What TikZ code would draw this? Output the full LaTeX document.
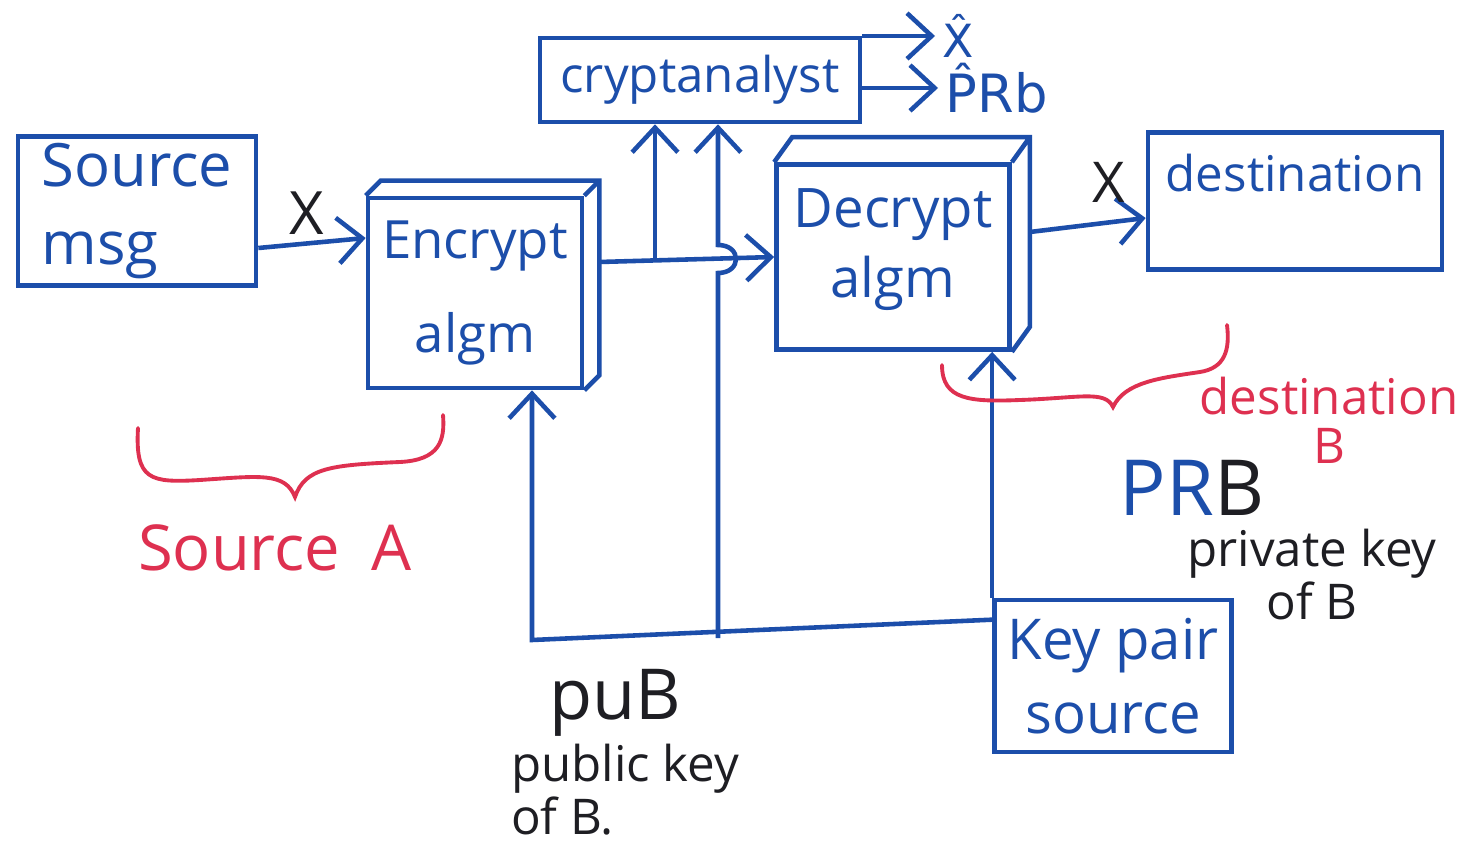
\documentclass[tikz,border=0pt]{standalone}
\usepackage{fontspec}
\setmainfont{Open Sans}
\newfontfamily\hatfont{DejaVu Sans}
\usetikzlibrary{arrows.meta,calc}
\definecolor{inkblue}{RGB}{28,78,170}
\definecolor{inkred}{RGB}{222,48,80}
\definecolor{inkblack}{RGB}{30,30,35}

\begin{document}
\begin{tikzpicture}[x=0.01cm,y=-0.01cm,
  box/.style={draw=inkblue,line width=1.3pt,text=inkblue,align=center,inner sep=2pt},
  link/.style={draw=inkblue,line width=1.3pt},
  arr/.style={link,-{Straight Barb[length=7pt,width=13pt]}},
  lbl/.style={text=inkblack,inner sep=2pt},
  note/.style={text=inkred,inner sep=2pt},
  brace/.style={draw=inkred,line width=1.1pt,line cap=round}]
\path[fill=white,use as bounding box] (0,0) rectangle (1458,843);

% blocks
\node[box,align=left,minimum width=2.38cm,minimum height=1.48cm,font=\fontsize{17}{22}\selectfont] (src) at (137,211) {Source\\msg};
\node[box,minimum width=2.14cm,minimum height=1.9cm,font=\fontsize{15}{27}\selectfont] (enc) at (475,293) {Encrypt\\algm};
\node[box,minimum width=2.33cm,minimum height=1.85cm,font=\fontsize{15.5}{20}\selectfont,text depth=8pt] (dec) at (893,257) {Decrypt\\algm};
\node[box,minimum width=3.2cm,minimum height=0.84cm,font=\fontsize{14}{17}\selectfont] (ca) at (700,80) {cryptanalyst};
\node[box,minimum width=2.94cm,minimum height=1.37cm,font=\fontsize{14}{17}\selectfont,text depth=16pt] (dst) at (1295,201) {destination};
\node[box,minimum width=2.37cm,minimum height=1.52cm,font=\fontsize{16}{21}\selectfont] (kp) at (1113,676) {Key pair\\source};

% depth of the two algorithm blocks
\draw[link] (enc.north west) -- ++(15,-15) -- ($(enc.north east)+(15,-15)$) -- ($(enc.south east)+(15,-15)$) -- (enc.south east)
  (enc.north east) -- ++(15,-15);
\draw[link] (dec.north west) -- ++(18,-25) -- ($(dec.north east)+(18,-25)$) -- ($(dec.south east)+(18,-25)$) -- (dec.south east)
  (dec.north east) -- ++(18,-25);

% message path
\draw[arr] ($(src.east)+(0,37)$) -- node[lbl,above=0pt,pos=.45,font=\fontsize{17}{20}\selectfont] {X} ($(enc.west)+(0,-55)$);
\draw[arr] ($(enc.east)+(15,-31)$) -- (dec.west);
\draw[arr] ($(dec.east)+(18,-25)$) -- node[lbl,above=3pt,pos=.68,font=\fontsize{16}{20}\selectfont] {X} ($(dst.west)+(0,17)$);

% taps into the cryptanalyst
\coordinate (tap) at (655,261);
\coordinate (busM) at (718,638);
\coordinate (busL) at (532,640);
\draw[arr] (tap) -- (tap |- ca.south);
\draw[arr] (busM) -- (718,273) .. controls (742,273) and (742,245) .. (718,245) -- (busM |- ca.south);

% what the cryptanalyst gets out
\node[lbl,text=inkblue,anchor=west,font=\hatfont\fontsize{13}{16}\selectfont] (xhat) at (935,36) {\^{X}};
\node[lbl,text=inkblue,anchor=west,font=\hatfont\fontsize{15}{18}\selectfont] (prhat) at (938,88) {\^{P}Rb};
\draw[arr] (ca.east |- xhat.west) -- (xhat.west);
\draw[arr] (ca.east |- prhat.west) -- (prhat.west);

% keys
\draw[arr] ($(kp.north west)+(0,22)$) -- (busL) -- (busL |- enc.south);
\draw[arr] (kp.north west) -- (kp.north west |- dec.south);

\node[lbl,font=\fontsize{22}{26}\selectfont] (prb) at (1192,488) {\textcolor{inkblue}{PR}B};
\node[lbl,align=center,font=\fontsize{14}{13}\selectfont] (prbnote) at (1312,575) {private key\\of B};
\node[lbl,font=\fontsize{20}{24}\selectfont] (pub) at (615,703) {puB};
\node[lbl,align=left,font=\fontsize{14}{12.5}\selectfont] (pubnote) at (625,790) {public key\\of B.};

% sides
\draw[brace] (138,428) .. controls (135,480) and (150,483) .. (200,480) .. controls (260,476) and (285,472) .. (295,497)
  .. controls (305,468) and (330,465) .. (400,462) .. controls (440,460) and (445,440) .. (443,415);
\node[note,font=\fontsize{18}{21}\selectfont] (srcA) at (275,548) {Source\enspace A};
\draw[brace] (942,365) .. controls (942,400) and (970,402) .. (1020,400) .. controls (1080,398) and (1105,390) .. (1113,407)
  .. controls (1125,382) and (1160,378) .. (1200,372) .. controls (1225,368) and (1230,350) .. (1227,325);
\node[note,align=center,anchor=west,font=\fontsize{14}{14}\selectfont] (dstB) at (1192,420) {destination\\B};
\end{tikzpicture}
\end{document}
